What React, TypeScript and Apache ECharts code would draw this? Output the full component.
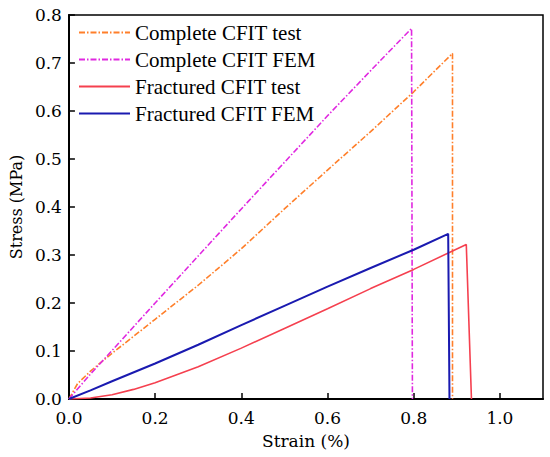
import React, { useEffect, useRef } from "react";
import * as echarts from "echarts";

const seriesNames = [
  "Complete CFIT test",
  "Complete CFIT FEM",
  "Fractured CFIT test",
  "Fractured CFIT FEM",
];

const completeTestStrain = [0, 0.02, 0.05, 0.09, 0.2, 0.3, 0.4, 0.5, 0.6, 0.7, 0.8, 0.89, 0.89];
const completeTestStress = [0, 0.032, 0.058, 0.088, 0.166, 0.237, 0.313, 0.396, 0.477, 0.557, 0.64, 0.72, 0];

const completeFemStrain = [0, 0.05, 0.1, 0.2, 0.3, 0.4, 0.5, 0.6, 0.7, 0.795, 0.797];
const completeFemStress = [0, 0.052, 0.101, 0.2, 0.298, 0.396, 0.493, 0.59, 0.684, 0.772, 0];

const fracturedTestStrain = [0, 0.05, 0.1, 0.15, 0.2, 0.3, 0.4, 0.5, 0.6, 0.7, 0.8, 0.922, 0.934];
const fracturedTestStress = [0, 0.002, 0.009, 0.02, 0.034, 0.067, 0.106, 0.147, 0.188, 0.23, 0.27, 0.322, 0];

const fracturedFemStrain = [0, 0.05, 0.1, 0.2, 0.3, 0.4, 0.5, 0.6, 0.7, 0.8, 0.88, 0.883];
const fracturedFemStress = [0, 0.018, 0.037, 0.074, 0.113, 0.154, 0.194, 0.234, 0.273, 0.311, 0.344, 0];

const colors = ["#FF7F2A", "#E028E0", "#F5404F", "#1A1AB0"];

const pair = (xs: number[], ys: number[]) => xs.map((x, i) => [x, ys[i]]);

const FONT = "Liberation Serif";
const AXIS_FONT = "DejaVu Serif";

export default function App() {
  const ref = useRef<HTMLDivElement>(null);
  useEffect(() => {
    if (!ref.current) return;
    const chart = echarts.init(ref.current, undefined, { renderer: "svg" });
    const dashDot = [6, 2, 1.5, 2];
    const data = [
      pair(completeTestStrain, completeTestStress),
      pair(completeFemStrain, completeFemStress),
      pair(fracturedTestStrain, fracturedTestStress),
      pair(fracturedFemStrain, fracturedFemStress),
    ];
    const types: any[] = [dashDot, dashDot, "solid", "solid"];
    const widths = [1.6, 1.6, 1.6, 2];
    chart.setOption({
      animation: false,
      textStyle: { fontFamily: FONT },
      grid: {
        left: 68,
        top: 15,
        width: 475,
        height: 384,
        show: true,
        borderColor: "#000",
        borderWidth: 1.5,
        backgroundColor: "transparent",
      },
      legend: {
        orient: "vertical",
        left: 78,
        top: 22,
        padding: 0,
        itemWidth: 51,
        itemHeight: 14,
        itemGap: 6,
        data: seriesNames,
        itemStyle: { opacity: 0 },
        textStyle: { fontSize: 21, fontFamily: FONT, color: "#000", lineHeight: 21 },
      },
      xAxis: {
        type: "value",
        min: 0,
        max: 1.1,
        interval: 0.2,
        name: "Strain (%)",
        nameLocation: "middle",
        nameGap: 33,
        nameTextStyle: { fontSize: 17, fontFamily: AXIS_FONT, color: "#000" },
        axisLine: { show: true, lineStyle: { color: "#000", width: 2 } },
        axisTick: { show: true, inside: true, length: 6, lineStyle: { color: "#000", width: 1.5 } },
        axisLabel: {
          fontSize: 17,
          fontFamily: AXIS_FONT,
          color: "#000",
          margin: 10,
          showMaxLabel: false,
          formatter: (v: number) => v.toFixed(1),
        },
        splitLine: { show: false },
      },
      yAxis: {
        type: "value",
        min: 0,
        max: 0.8,
        interval: 0.1,
        name: "Stress (MPa)",
        nameLocation: "middle",
        nameGap: 43,
        nameTextStyle: { fontSize: 16, fontFamily: AXIS_FONT, color: "#000" },
        axisLine: { show: true, lineStyle: { color: "#000", width: 2 } },
        axisTick: { show: true, inside: true, length: 6, lineStyle: { color: "#000", width: 1.5 } },
        axisLabel: {
          fontSize: 17,
          fontFamily: AXIS_FONT,
          color: "#000",
          margin: 7,
          formatter: (v: number) => v.toFixed(1),
        },
        splitLine: { show: false },
      },
      series: seriesNames.map((name, i) => ({
        name,
        type: "line",
        data: data[i],
        symbol: "none",
        smooth: false,
        color: colors[i],
        lineStyle: { color: colors[i], width: widths[i], type: types[i] },
      })),
    });
    return () => chart.dispose();
  }, []);
  return (
    <div
      ref={ref}
      style={{ position: "fixed", left: 0, top: 0, width: 550, height: 457, background: "#fff" }}
    />
  );
}
